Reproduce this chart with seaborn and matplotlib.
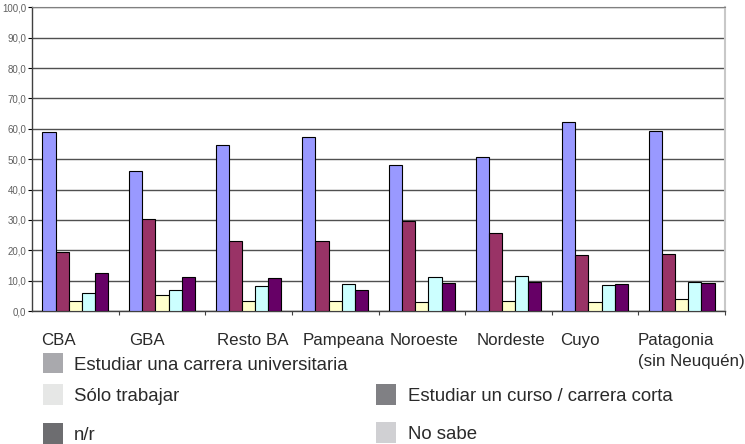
import numpy as np
import pandas as pd
import matplotlib
matplotlib.use("Agg")
import matplotlib.pyplot as plt
import seaborn as sns
from matplotlib.patches import Rectangle

# ---- data ----
regions = ["CBA", "GBA", "Resto BA", "Pampeana", "Noroeste", "Nordeste", "Cuyo", "Patagonia"]
region_labels = ["CBA", "GBA", "Resto BA", "Pampeana", "Noroeste", "Nordeste", "Cuyo",
                 "Patagonia\n(sin Neuquén)"]
series = ["Estudiar una carrera universitaria", "Estudiar un curso / carrera corta",
          "Sólo trabajar", "No sabe", "n/r"]
universitaria = [59.1, 46.2, 54.7, 57.3, 48.0, 50.7, 62.1, 59.2]
curso_corto = [19.3, 30.3, 22.9, 22.9, 29.7, 25.7, 18.3, 18.8]
solo_trabajar = [3.2, 5.3, 3.4, 3.4, 2.9, 3.2, 2.9, 4.0]
no_sabe = [5.8, 7.0, 8.3, 9.0, 11.2, 11.4, 8.5, 9.4]
nr = [12.6, 11.2, 10.8, 7.0, 9.1, 9.4, 8.8, 9.1]
y_ticks = [0, 10, 20, 30, 40, 50, 60, 70, 80, 90, 100]

values = [universitaria, curso_corto, solo_trabajar, no_sabe, nr]
df = pd.DataFrame({
    "region": np.repeat([regions], len(series), axis=0).ravel(),
    "serie": np.repeat(series, len(regions)),
    "valor": np.concatenate(values),
})

# ---- styles ----
bar_colors = ["#9999FF", "#993366", "#FFFFCC", "#CCFFFF", "#660066"]
# legend squares in the reference are greyscale
legend_order = ["Estudiar una carrera universitaria", "Sólo trabajar", "n/r",
                "Estudiar un curso / carrera corta", "No sabe"]
legend_colors = ["#A9A9AD", "#E6E7E6", "#6D6D70", "#808084", "#D0D0D3"]

W, H = 745, 444
fig = plt.figure(figsize=(W / 100, H / 100), dpi=100)
ax = fig.add_axes([32 / W, (H - 311) / H, (725 - 32) / W, (311 - 7.3) / H])

sns.barplot(data=df, x="region", y="valor", hue="serie", order=regions, hue_order=series,
            palette=bar_colors, width=0.76, gap=0, edgecolor="black", linewidth=0.8,
            saturation=1, legend=False, ax=ax, zorder=3)

ax.set_ylim(0, 100)
ax.set_xlim(-0.5, len(regions) - 0.5)
ax.set_yticks(y_ticks)
ax.set_yticklabels([f"{v:.1f}".replace(".", ",") for v in y_ticks],
                   fontsize=7, color="#606060", family="Liberation Sans")
ax.set_xticks(np.arange(len(regions)) + 0.5)
ax.set_xticklabels([])
ax.tick_params(axis="y", length=3, width=0.8, color="black", pad=1)
ax.tick_params(axis="x", length=3, width=0.8, color="#404040")
ax.set_xlabel("")
ax.set_ylabel("")
ax.grid(axis="y", color="#505050", linewidth=1, zorder=0)
ax.set_axisbelow(True)
for s in ["left", "bottom"]:
    ax.spines[s].set_color("#404040")
    ax.spines[s].set_linewidth(1)
ax.spines["top"].set_color("#808080")
ax.spines["right"].set_color("#C8C8C8")
ax.spines["right"].set_linewidth(1.5)

# ---- category labels (placed as in the reference) ----
label_left_px = [41, 129, 217, 303, 390, 477, 560, 638]
line_step_px = 21
for lab, xp in zip(region_labels, label_left_px):
    for i, line in enumerate(lab.split("\n")):
        fig.text(xp / W, 1 - (345 + i * line_step_px) / H, line, ha="left", va="baseline",
                 fontsize=12.2, family="Liberation Sans", color="#2a2a2a")

# ---- legend (manual, grey squares like the reference) ----
legend_pos = [(42.7, 363), (42.7, 394.5), (42.7, 433.5), (376, 394.5), (376, 432.5)]
sq = 20.5
for lab, col, (xp, yc) in zip(legend_order, legend_colors, legend_pos):
    fig.patches.append(Rectangle((xp / W, 1 - (yc + sq / 2) / H), sq / W, sq / H,
                                 transform=fig.transFigure, facecolor=col,
                                 edgecolor="none"))
    fig.text((xp + sq + 11) / W, 1 - (yc + 6.8) / H, lab, ha="left", va="baseline",
             fontsize=13.4, family="Liberation Sans", color="#2a2a2a")

fig.savefig("out.png", dpi=100, facecolor="white")
